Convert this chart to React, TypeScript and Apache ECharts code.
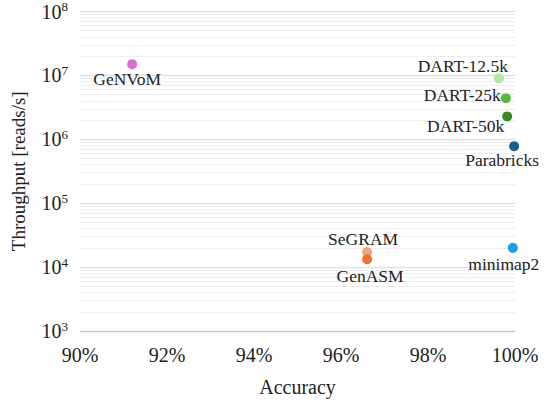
import React, { useEffect, useRef } from "react";
import * as echarts from "echarts";

const names = ["GeNVoM", "DART-12.5k", "DART-25k", "DART-50k", "Parabricks", "SeGRAM", "GenASM", "minimap2"];
const accuracy = [91.2, 99.63, 99.79, 99.82, 99.98, 96.6, 96.6, 99.95];
const throughput = [1.5e7, 9.0e6, 4.4e6, 2.28e6, 7.8e5, 1.72e4, 1.33e4, 2.0e4];
const colors = ["#d66fcf", "#b4e5a2", "#5cb73d", "#3b8a26", "#1c5f82", "#f3a583", "#ec7136", "#1a9fe0"];

const xTicks = [90, 92, 94, 96, 98, 100];
const yDecades = [3, 4, 5, 6, 7, 8];
const minorMultipliers = [2, 3, 4, 5, 6, 7, 8, 9];

// label placement: [align, dx, dy] relative to the point centre
const labelPlacement: Record<string, [string, number, number]> = {
  "GeNVoM": ["center", -5, 15],
  "DART-12.5k": ["right", 9, -12],
  "DART-25k": ["right", -5, -3],
  "DART-50k": ["right", -3, 10],
  "Parabricks": ["center", -12, 14],
  "SeGRAM": ["center", -4, -13],
  "GenASM": ["center", 3, 17],
  "minimap2": ["center", -9, 16],
};

const FONT = "'Liberation Serif', 'DejaVu Serif', serif";

export default function App() {
  const ref = useRef<HTMLDivElement>(null);
  useEffect(() => {
    document.body.style.margin = "0";
    if (!ref.current) return;
    const chart = echarts.init(ref.current, undefined, { renderer: "svg" });
    const minorLines: any[] = [];
    for (let i = 0; i < yDecades.length - 1; i++) {
      for (const m of minorMultipliers) {
        minorLines.push({ yAxis: m * Math.pow(10, yDecades[i]) });
      }
    }
    const data = names.map((n, i) => {
      const [align, dx, dy] = labelPlacement[n];
      return {
        name: n,
        value: [accuracy[i], throughput[i]],
        itemStyle: { color: colors[i], opacity: 1 },
        label: {
          show: true,
          formatter: n,
          position: "inside",
          align,
          verticalAlign: "middle",
          offset: [dx, dy],
          color: "#222",
          fontFamily: FONT,
          fontSize: 17.5,
        },
      };
    });
    chart.setOption({
      animation: false,
      textStyle: { fontFamily: FONT },
      grid: { left: 80, right: 29, top: 10, bottom: 72 },
      xAxis: {
        type: "value",
        min: xTicks[0],
        max: xTicks[xTicks.length - 1],
        interval: 2,
        name: "Accuracy",
        nameLocation: "middle",
        nameGap: 46,
        nameTextStyle: { fontFamily: FONT, fontSize: 20, color: "#222" },
        axisLine: { show: true, lineStyle: { color: "#c4c4c4", width: 1 } },
        axisTick: { show: false },
        splitLine: { show: false },
        axisLabel: {
          formatter: "{value}%",
          fontFamily: FONT,
          fontSize: 20,
          color: "#222",
          margin: 14,
        },
      },
      yAxis: {
        type: "log",
        logBase: 10,
        min: Math.pow(10, yDecades[0]),
        max: Math.pow(10, yDecades[yDecades.length - 1]),
        splitNumber: 5,
        name: "Throughput [reads/s]",
        nameLocation: "middle",
        nameGap: 52,
        nameTextStyle: { fontFamily: FONT, fontSize: 19, color: "#222" },
        axisLine: { show: false },
        axisTick: { show: false },
        splitLine: { show: true, lineStyle: { color: "#e2e2e2", width: 1.3 } },
        axisLabel: {
          margin: 12,
          color: "#222",
          fontFamily: FONT,
          fontSize: 20,
          formatter: (v: number) => `{b|10}{sup|${Math.round(Math.log10(v))}}`,
          rich: {
            b: { fontFamily: FONT, fontSize: 20, color: "#222" },
            sup: { fontFamily: FONT, fontSize: 13, color: "#222", verticalAlign: "top", padding: [0, 0, 10, 0] },
          },
        },
      },
      series: [
        {
          type: "scatter",
          symbolSize: 10,
          data,
          z: 3,
          markLine: {
            silent: true,
            symbol: "none",
            label: { show: false },
            lineStyle: { color: "#eeeeee", type: "solid", width: 1 },
            data: minorLines,
            z: 1,
          },
        },
      ],
    });
    return () => chart.dispose();
  }, []);
  return <div ref={ref} style={{ width: 544, height: 403 }} />;
}
